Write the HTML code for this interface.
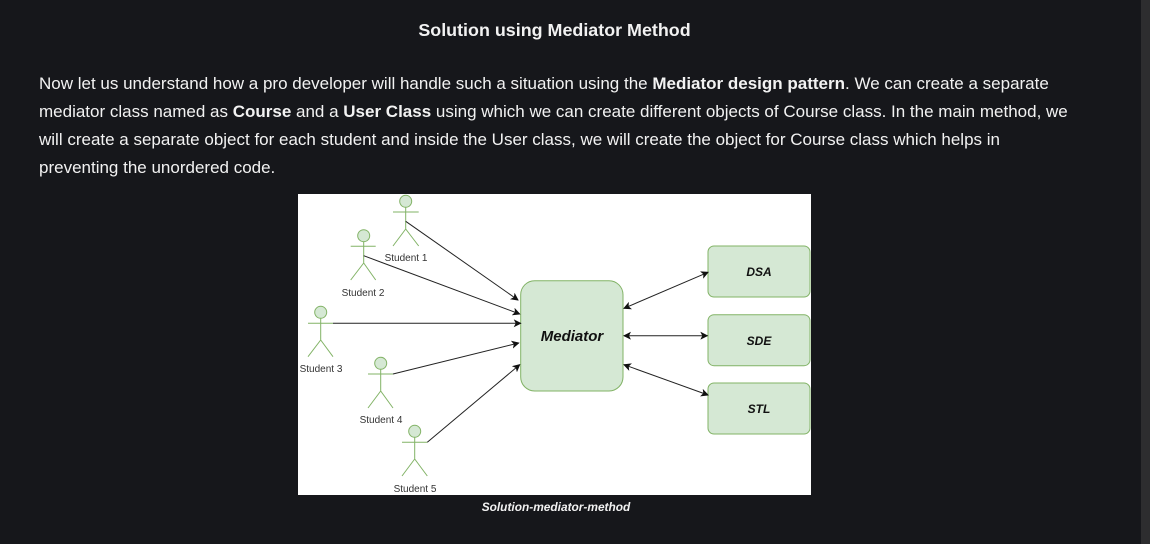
<!DOCTYPE html>
<html><head><meta charset="utf-8"><style>
html,body{margin:0;padding:0;}
body{width:1150px;height:544px;background:#16171b;position:relative;overflow:hidden;font-family:"Liberation Sans",sans-serif;color:#f2f2f2;}
.sb{position:absolute;left:1141px;top:0;width:9px;height:544px;background:#2d2d2f;}
h1{position:absolute;left:0;width:1109px;top:20px;margin:0;text-align:center;font-size:17.9px;font-weight:bold;}
p{position:absolute;left:39px;top:70px;width:1080px;margin:0;font-size:17px;line-height:28px;white-space:nowrap;}
.cap{position:absolute;left:0;width:1112px;top:500px;text-align:center;font-size:11.9px;font-weight:bold;font-style:italic;}
svg{position:absolute;left:0;top:0;}
</style></head><body>
<div class="sb"></div>
<h1>Solution using Mediator Method</h1>
<p>Now let us understand how a pro developer will handle such a situation using the <b>Mediator design pattern</b>. We can create a separate<br>mediator class named as <b>Course</b> and a <b>User Class</b> using which we can create different objects of Course class. In the main method, we<br>will create a separate object for each student and inside the User class, we will create the object for Course class which helps in<br>preventing the unordered code.</p>
<svg width="1150" height="544">
<defs><marker id="a" markerWidth="8" markerHeight="8" refX="7" refY="4" orient="auto-start-reverse" markerUnits="userSpaceOnUse"><path d="M0,0 L8,4 L0,8 L2,4z" fill="#111"/></marker></defs>
<rect x="298" y="194" width="513" height="301" fill="#fff"/>
<g fill="#d5e8d4" stroke="#82b366" stroke-width="1">
<rect x="520.7" y="280.7" width="102.3" height="110.3" rx="14"/>
<rect x="708" y="246" width="102" height="51" rx="6"/>
<rect x="708" y="314.7" width="102" height="51" rx="6"/>
<rect x="708" y="383" width="102" height="51" rx="6"/>
</g>
<g stroke="#82b366" fill="#d5e8d4" stroke-width="1">
<circle cx="405.7" cy="201.3" r="6"/><path d="M393,212H418.7M405.7,207.3V229M405.7,229L393,246M405.7,229L418.7,246" fill="none"/>
<circle cx="363.7" cy="235.7" r="6"/><path d="M350.7,246.3H375.7M363.7,241.7V263M363.7,263L350.7,280M363.7,263L375.7,280" fill="none"/>
<circle cx="320.7" cy="312.3" r="6"/><path d="M308,323.3H333M320.7,318.3V340M320.7,340L308,356.7M320.7,340L333,356.7" fill="none"/>
<circle cx="380.7" cy="363.3" r="6"/><path d="M368,374H393M380.7,369.3V391M380.7,391L368,408M380.7,391L393,408" fill="none"/>
<circle cx="414.7" cy="431.3" r="6"/><path d="M402,442.3H427.3M414.7,437.3V459M414.7,459L402,476M414.7,459L427.3,476" fill="none"/>
</g>
<g stroke="#222" stroke-width="1" fill="none">
<line x1="405.7" y1="221.3" x2="518" y2="300" marker-end="url(#a)"/>
<line x1="363.7" y1="255.7" x2="519.7" y2="314" marker-end="url(#a)"/>
<line x1="333" y1="323.3" x2="520.7" y2="323.3" marker-end="url(#a)"/>
<line x1="393" y1="374" x2="518.7" y2="343" marker-end="url(#a)"/>
<line x1="427.3" y1="442.3" x2="519.7" y2="364.7" marker-end="url(#a)"/>
<line x1="624" y1="308.3" x2="708" y2="272.3" marker-start="url(#a)" marker-end="url(#a)"/>
<line x1="624" y1="335.7" x2="707.3" y2="335.7" marker-start="url(#a)" marker-end="url(#a)"/>
<line x1="624" y1="364.7" x2="708" y2="395" marker-start="url(#a)" marker-end="url(#a)"/>
</g>
<g font-family="Liberation Sans,sans-serif" font-size="10" fill="#333" text-anchor="middle">
<text x="406" y="261">Student 1</text>
<text x="363" y="296">Student 2</text>
<text x="321" y="372">Student 3</text>
<text x="381" y="423">Student 4</text>
<text x="415" y="492">Student 5</text>
</g>
<g font-family="Liberation Sans,sans-serif" font-style="italic" font-weight="bold" fill="#111" text-anchor="middle">
<text x="572" y="341" font-size="15">Mediator</text>
<text x="759" y="276" font-size="12">DSA</text>
<text x="759" y="345" font-size="12">SDE</text>
<text x="759" y="413" font-size="12">STL</text>
</g>
</svg>
<div class="cap">Solution-mediator-method</div>
</body></html>
